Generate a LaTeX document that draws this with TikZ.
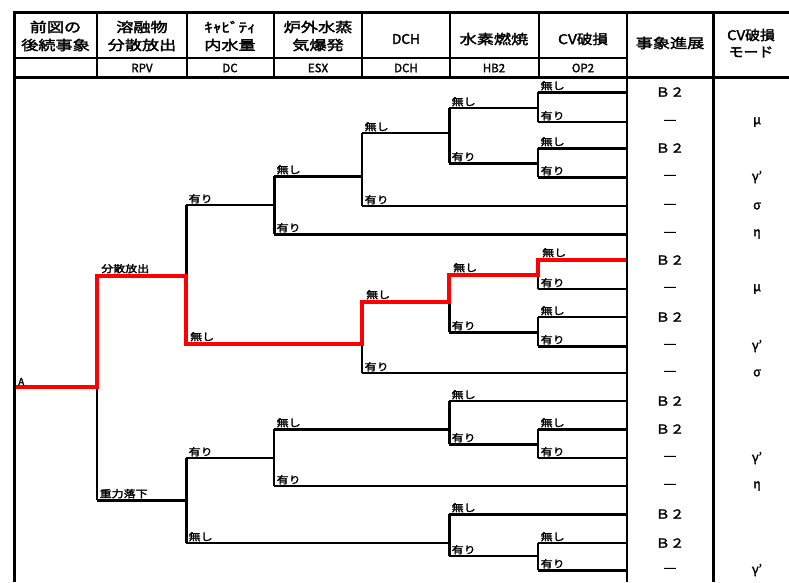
\documentclass[tikz,border=0pt]{standalone}
\usepackage{fontspec}
\setmainfont{Noto Sans CJK JP}[AutoFakeBold=2]
\usepackage{graphicx}
\newcommand\hx[2][1.27]{\scalebox{#1}[1]{#2}}
\newcommand\myhdf{\fontsize{13.5}{16}\selectfont\bfseries}
\newcommand\mysmf{\fontsize{11.5}{12}\selectfont\bfseries}
\newcommand\mylbf{\fontsize{10}{11}\selectfont\bfseries}
\newcommand\myclf{\fontsize{12.5}{13}\selectfont\bfseries}
\tikzset{
  thinln/.style={line width=1.1pt},
  midln/.style={line width=1.8pt},
  thickln/.style={line width=3pt},
  hdiv/.style={line width=2.6pt},
  redln/.style={line width=4pt, red, line join=miter},
  lbl/.style={anchor=south west, inner sep=0pt, font=\mylbf},
  hd/.style={inner sep=0pt, font=\myhdf},
  hs/.style={inner sep=0pt, font=\mysmf},
  col/.style={inner sep=0pt, font=\myclf},
}
% name, x1, y, x2, style, label
\newcommand\seg[6]{%
  \draw[#5] (#2,#3) coordinate (#1s) -- (#4,#3) coordinate (#1e);
  \node[lbl] (#1l) at ([xshift=2.5pt,yshift=1.5pt]#1s) {\hx[1.2]{#6}};}
\newcommand\vseg[4]{\draw[#4] (#1,#2) -- (#1,#3);}
\begin{document}
\begin{tikzpicture}[x=1pt,y=-1pt]
\useasboundingbox (0,0) rectangle (789,582);
\fill[white] (0,0) rectangle (789,582);

% ---- tree: verticals
\vseg{97}{387}{500}{thinln}
\vseg{186}{205}{276}{thickln}
\vseg{274}{176}{234}{thickln}
\vseg{362}{133}{206}{midln}
\vseg{449}{108}{163}{thickln}
\vseg{538}{92}{122}{midln}
\vseg{538}{148}{177}{midln}
\vseg{362}{344}{373}{thinln}
\vseg{449}{302}{332}{thickln}
\vseg{538}{275}{289}{thinln}
\vseg{538}{317}{346}{midln}
\vseg{186}{458}{543}{thickln}
\vseg{274}{429}{486}{midln}
\vseg{449}{401}{444}{thickln}
\vseg{538}{429}{458}{midln}
\vseg{449}{514}{556}{thickln}
\vseg{538}{543}{570}{midln}

% ---- tree: horizontals
\seg{g}{97}{500}{186}{thickln}{重力落下}
\seg{a1}{186}{205}{274}{thinln}{有り}
\seg{a2}{274}{176}{362}{thickln}{無し}
\seg{a3}{274}{234}{627}{thickln}{有り}
\seg{a4}{362}{133}{449}{thinln}{無し}
\seg{a5}{362}{206}{627}{thinln}{有り}
\seg{a6}{449}{108}{538}{midln}{無し}
\seg{a7}{449}{163}{538}{thickln}{有り}
\seg{a8}{538}{92}{627}{thickln}{無し}
\seg{a9}{538}{122}{627}{thinln}{有り}
\seg{a10}{538}{148}{627}{thickln}{無し}
\seg{a11}{538}{177}{627}{thickln}{有り}
\seg{b1}{362}{373}{627}{thinln}{有り}
\seg{b2}{449}{332}{538}{thickln}{有り}
\seg{b3}{538}{289}{627}{thinln}{有り}
\seg{b4}{538}{317}{627}{thinln}{無し}
\seg{b5}{538}{346}{627}{thickln}{有り}
\seg{c1}{186}{458}{274}{thinln}{有り}
\seg{c2}{186}{543}{449}{thinln}{無し}
\seg{c3}{274}{429}{449}{thickln}{無し}
\seg{c4}{274}{486}{627}{thinln}{有り}
\seg{c5}{449}{401}{627}{thinln}{無し}
\seg{c6}{449}{444}{538}{thickln}{有り}
\seg{c7}{538}{429}{627}{thickln}{無し}
\seg{c8}{538}{458}{627}{thinln}{有り}
\seg{c9}{449}{514}{627}{thickln}{無し}
\seg{c10}{449}{556}{538}{midln}{有り}
\seg{c11}{538}{543}{627}{thinln}{無し}
\seg{c12}{538}{570}{627}{thickln}{有り}

% ---- red path
\coordinate (r0) at (14,387);
\coordinate (r1) at (97,276);
\coordinate (r2) at (186,344);
\coordinate (r3) at (362,302);
\coordinate (r4) at (449,275);
\coordinate (r5) at (538,260);
\coordinate (r6) at (627,260);
\draw[redln] (r0) -| (r1) -| (r2) -| (r3) -| (r4) -| (r5) -- (r6);
\node[lbl] (rl0) at ([xshift=4pt,yshift=1.5pt]r0) {A};
\node[lbl] (rl1) at ([xshift=4pt,yshift=2.5pt]r1) {\hx[1.2]{分散放出}};
\node[lbl] (rl2) at ([xshift=4pt,yshift=2.5pt]r2) {\hx[1.2]{無し}};
\node[lbl] (rl3) at ([xshift=4pt,yshift=2.5pt]r3) {\hx[1.2]{無し}};
\node[lbl] (rl4) at ([xshift=4pt,yshift=2.5pt]r4) {\hx[1.2]{無し}};
\node[lbl] (rl5) at ([xshift=4pt,yshift=2.5pt]r5) {\hx[1.2]{無し}};

% ---- table frame
\fill[white] (14,12) rectangle (789,77);
\draw[thickln] (12.5,12) -- (789,12);
\draw[thickln] (12.5,77) -- (789,77);
\draw[thinln] (14,58) -- (627,58);
\draw[thickln] (14,10.5) -- (14,582);
\foreach \x in {97,187,274,362,450,539,627}
  \draw[hdiv] (\x,12) -- (\x,77);
\draw[thickln] (713,10.5) -- (713,582);
\draw[thinln] (627,77) -- (627,582);

% ---- header texts
\node[hd] (h1a) at (55.5,27) {\hx{前図の}};
\node[hd] (h1b) at (55.5,45) {\hx{後続事象}};
\node[hd] (h2a) at (142,27) {\hx{溶融物}};
\node[hd] (h2b) at (142,45) {\hx{分散放出}};
\node[hd] (h3a) at (230,27) {\hx{ｷｬﾋﾞﾃｨ}};
\node[hd] (h3b) at (230,45) {\hx{内水量}};
\node[hd] (h4a) at (318,27) {\hx{炉外水蒸}};
\node[hd] (h4b) at (318,45) {\hx{気爆発}};
\node[hd] (h5) at (406,39) {\hx[1.0]{DCH}};
\node[hd] (h6) at (494,39) {\hx{水素燃焼}};
\node[hd] (h7) at (583,39) {\hx[1.15]{CV破損}};
\node[hd] (h8) at (670,43) {\hx{事象進展}};
\node[hd] (h9a) at (751,35) {\hx[1.1]{CV破損}};
\node[hd] (h9b) at (751,52) {\hx[1.1]{モード}};
\node[hs] (s2) at (142,68) {RPV};
\node[hs] (s3) at (230,68) {DC};
\node[hs] (s4) at (318,68) {ESX};
\node[hs] (s5) at (406,68) {DCH};
\node[hs] (s6) at (494,68) {HB2};
\node[hs] (s7) at (583,68) {OP2};

% ---- event progression column
\foreach \yy/\t [count=\i] in {92/Ｂ２,122/—,148/Ｂ２,177/—,206/—,234/—,260/Ｂ２,289/—,317/Ｂ２,346/—,373/—,401/Ｂ２,429/Ｂ２,458/—,486/—,514/Ｂ２,543/Ｂ２,570/—}
  \node[col,name=e\i] at (670,\yy) {\hx[1.15]{\t}};
% ---- CV failure mode column
\foreach \yy/\t [count=\i] in {122/μ,177/γ',206/σ,234/η,289/μ,346/γ',373/σ,458/γ',486/η,570/γ'}
  \node[col,name=m\i] at (757,\yy) {\t};
\end{tikzpicture}
\end{document}
